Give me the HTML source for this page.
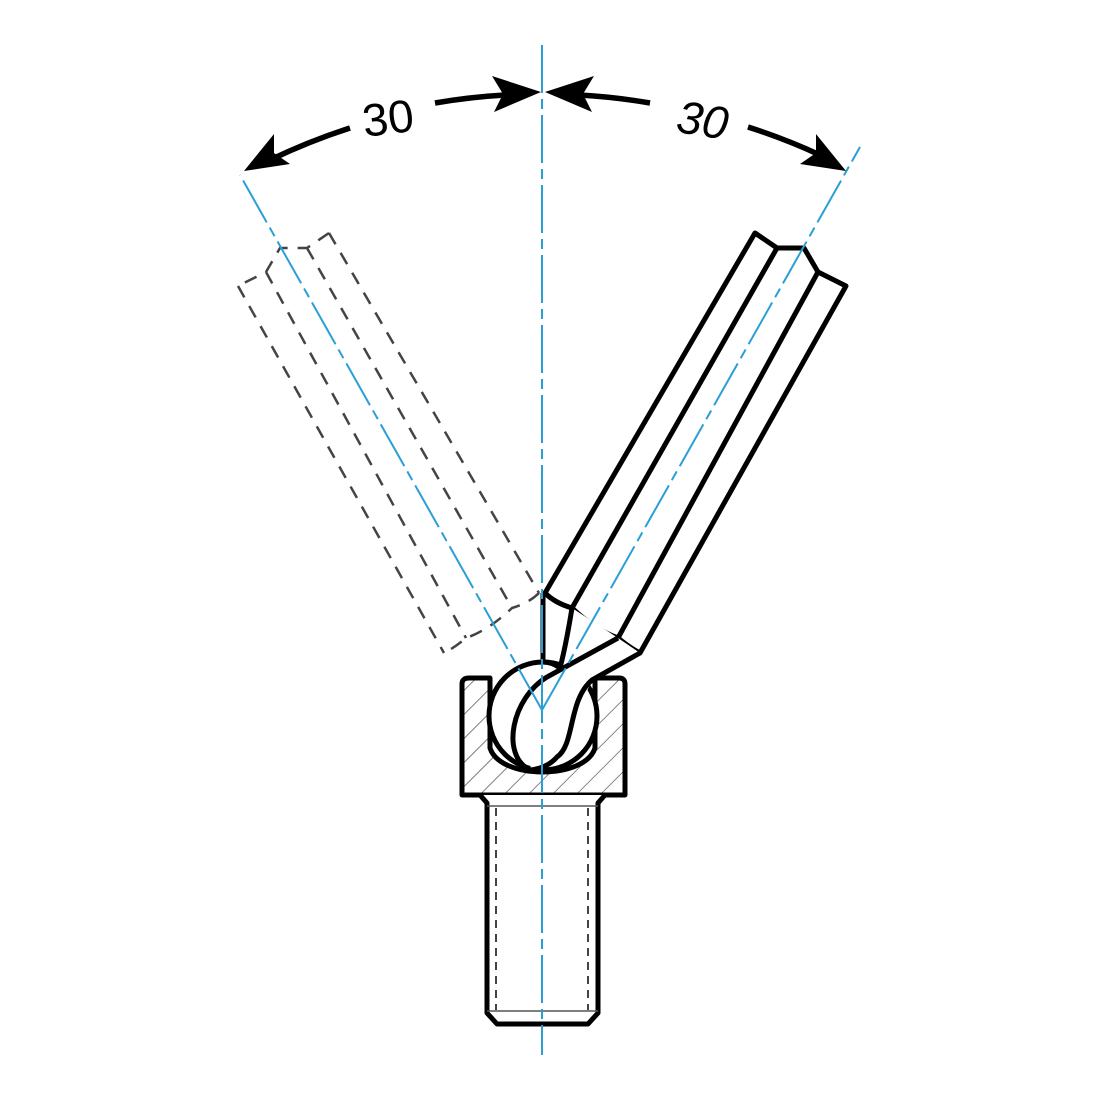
<!DOCTYPE html>
<html><head><meta charset="utf-8"><style>html,body{margin:0;padding:0;background:#fff}svg{display:block}</style></head>
<body>
<svg width="1100" height="1100" viewBox="0 0 1100 1100" xmlns="http://www.w3.org/2000/svg">
<defs>
<pattern id="h" width="17" height="17" patternUnits="userSpaceOnUse" patternTransform="rotate(45)">
<rect width="17" height="17" fill="#fff"/>
<line x1="0" y1="0" x2="0" y2="17" stroke="#333" stroke-width="1.2"/>
</pattern>
</defs>
<!-- ghost wrench (mirror of right) -->
<g transform="translate(1084,0) scale(-1,1)" fill="none" stroke="#444" stroke-width="2.5" stroke-dasharray="13 10">
<polyline points="755,233 777,248 804,248 818,272 846,286"/>
<line x1="755" y1="233" x2="545" y2="593"/>
<line x1="777" y1="248" x2="572" y2="608"/>
<line x1="818" y1="272" x2="618" y2="638"/>
<line x1="846" y1="286" x2="640" y2="653"/>
<path d="M545,593 Q555,603 572,608 Q595,630 618,638 Q630,648 640,653"/>
</g>
<!-- socket -->
<path d="M469,678 L490,678 L490,748 C500,780 585,780 595,748 L595,678 L619,678 Q625,678 625,684 L625,795 L462,795 L462,684 Q462,678 469,678 Z" fill="url(#h)" stroke="#000" stroke-width="5" stroke-linejoin="round"/>
<!-- shank -->
<path d="M480,795 L487,803 L487,1013 L497,1024 L588,1024 L598,1013 L598,803 L605,795" fill="#fff" stroke="#000" stroke-width="5" stroke-linejoin="round"/>
<line x1="487" y1="806" x2="598" y2="806" stroke="#555" stroke-width="1.5"/>
<line x1="487" y1="1011" x2="598" y2="1011" stroke="#555" stroke-width="1.5"/>
<line x1="496" y1="808" x2="496" y2="1010" stroke="#444" stroke-width="2" stroke-dasharray="8 6"/>
<line x1="588" y1="808" x2="588" y2="1010" stroke="#444" stroke-width="2" stroke-dasharray="8 6"/>
<!-- ball -->
<circle cx="543" cy="716" r="54" fill="#fff" stroke="#000" stroke-width="5"/>
<!-- right wrench bar -->
<path d="M755,233 L777,248 L804,248 L818,272 L846,286 L640,653 Q630,648 618,638 Q595,630 572,608 Q555,603 545,593 Z" fill="#fff" stroke="#000" stroke-width="5" stroke-linejoin="round"/>
<line x1="777" y1="248" x2="572" y2="608" stroke="#000" stroke-width="5"/>
<line x1="818" y1="272" x2="618" y2="638" stroke="#000" stroke-width="5"/>
<path d="M545,593 Q555,603 572,608 Q595,630 618,638 Q630,648 640,653" fill="none" stroke="#000" stroke-width="5"/>
<!-- neck -->
<path d="M572,608 L561,668 L543,690 L530,770 L557,757 L592,680 L640,653 L618,638 Z" fill="#fff" stroke="none"/>
<line x1="543" y1="593" x2="543" y2="662" stroke="#000" stroke-width="5"/>
<path d="M572,608 Q566,645 560,668" fill="none" stroke="#000" stroke-width="5"/>
<path d="M618,638 L547,677 C512,698 500,755 530,770" fill="none" stroke="#000" stroke-width="5"/>
<path d="M640,653 L592,680 C568,700 575,745 557,757 C550,765 540,769 530,770" fill="none" stroke="#000" stroke-width="5"/>
<path d="M543,662 Q552,662 560,668" fill="none" stroke="#000" stroke-width="5"/>
<!-- center lines -->
<g stroke="#2a9fd6" stroke-width="2" fill="none" stroke-dasharray="48 6 10 6">
<line x1="542" y1="45" x2="542" y2="1055"/>
<line x1="542" y1="710" x2="860" y2="147"/>
<line x1="542" y1="710" x2="240" y2="175"/>
</g>
<!-- arcs -->
<g stroke="#000" stroke-width="5.5" fill="none">
<path d="M435,103 A618,618 0 0 1 505,95"/>
<path d="M270,160 A618,618 0 0 1 350,128"/>
<path d="M580,95 A618,618 0 0 1 650,103"/>
<path d="M748,127 A618,618 0 0 1 820,155"/>
</g>
<g fill="#000">
<polygon points="541,92 492,76 503,94 494,112"/>
<polygon points="545,92 594,76 583,94 592,112"/>
<polygon points="244,171 274,134 274,153 290,164"/>
<polygon points="846,171 816,134 816,153 800,164"/>
</g>
<text x="388" y="134" font-family="Liberation Sans, sans-serif" font-size="46" text-anchor="middle" transform="rotate(-7 388 118)">30</text>
<text x="703" y="136" font-family="Liberation Sans, sans-serif" font-size="46" font-style="italic" text-anchor="middle" transform="rotate(9 703 118)">30</text>
</svg>
</body></html>
